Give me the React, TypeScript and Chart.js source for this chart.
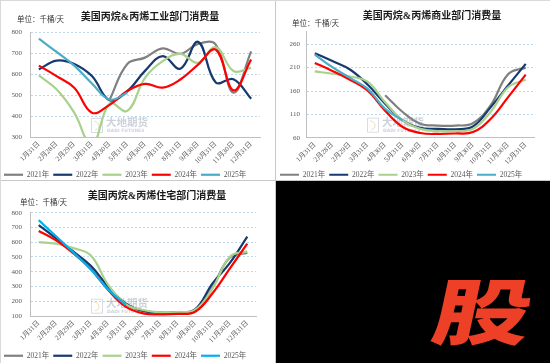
import React, { useEffect, useRef } from "react";
import { Chart, registerables } from "chart.js";

Chart.register(...registerables);

// ---------- DATA ----------
const categories = ["1月31日", "2月28日", "2月29日", "3月31日", "4月30日", "5月31日", "6月30日", "7月31日", "8月31日", "9月30日", "10月31日", "11月30日", "12月31日"];
const seriesNames = ["2021年", "2022年", "2023年", "2024年", "2025年"];

// 工业部门 (industrial)
const ind2021 = [null, null, null, null, 478, 648, 678, 722, 696, 743, 740, 511, 708];
const ind2022 = [622, 664, 648, 590, 475, 518, 615, 685, 625, 753, 560, 575, 482];
const ind2023 = [593, 527, 416, 260, 459, 424, 582, 661, 696, 653, 728, 614, 629];
const ind2024 = [640, 590, 535, 416, 453, 519, 553, 535, 574, 645, 716, 522, 669];
const ind2025 = [768, 705, 640, 555, 478, 510, null, null, null, null, null, null, null];

// 商业部门 (commercial)
const com2021 = [null, null, null, null, 151, 115, 90, 86, 86, 91, 129, 196, 210];
const com2022 = [241, 224, 206, 174, 133, 97, 81, 79, 78, 84, 125, 172, 218];
const com2023 = [202, 197, 191, 180, 136, 97, 79, 74, 74, 79, 115, 168, 184];
const com2024 = [220, 203, 184, 161, 118, 83, 70, 68, 69, 72, 100, 147, 195];
const com2025 = [238, 211, 188, 165, 122, 97, null, null, null, null, null, null, null];

// 住宅部门 (residential)
const res2021 = [null, null, null, null, 295, 182, 132, 122, 124, 140, 300, 497, 528];
const res2022 = [716, 626, 536, 440, 299, 186, 136, 123, 125, 145, 321, 460, 638];
const res2023 = [601, 590, 560, 510, 310, 181, 141, 125, 127, 141, 287, 502, 538];
const res2024 = [676, 612, 524, 418, 276, 163, 118, 111, 114, 129, 254, 423, 590];
const res2025 = [750, 640, 530, 415, 280, 175, null, null, null, null, null, null, null];

// tick labels
const indTickValues = [300, 400, 500, 600, 700, 800];
const comTickValues = [60, 110, 160, 210, 260];
const resTickValues = [100, 200, 300, 400, 500, 600, 700, 800];

// ---------- STYLE ----------
const FONT = "'Liberation Serif', 'Noto Sans CJK SC', serif";
const TITLE_FONT = "'Liberation Serif', 'Noto Sans CJK SC', serif";
const GRAY_TEXT = "#595959";

const decorPlugin = {
  id: "decor",
  beforeDatasetsDraw(chart: any) {
    const ctx = chart.ctx;
    const { left, top } = chart.chartArea;
    const x = left + 61;
    const y = top + 86;
    ctx.save();
    ctx.globalAlpha = 0.45;
    ctx.strokeStyle = "#a9b3c6";
    ctx.lineWidth = 1;
    ctx.beginPath();
    ctx.rect(x + 0.5, y + 0.5, 11, 14);
    ctx.stroke();
    ctx.strokeStyle = "#d8b868";
    ctx.beginPath();
    ctx.moveTo(x + 3, y + 3);
    ctx.bezierCurveTo(x + 9, y + 4, x + 10, y + 11, x + 4, y + 12);
    ctx.stroke();
    ctx.fillStyle = "#8e98ad";
    ctx.textBaseline = "top";
    ctx.textAlign = "left";
    ctx.font = "bold 10.5px 'Noto Sans CJK SC'";
    ctx.fillText("大地期货", x + 15, y - 1);
    ctx.font = "bold 4.5px 'DejaVu Sans'";
    ctx.fillText("DADI FUTURES", x + 16, y + 11);
    ctx.restore();
  },
  afterDraw(chart: any, _args: any, opts: any) {
    const ctx = chart.ctx;
    ctx.save();
    ctx.fillStyle = "#1a1a1a";
    ctx.textAlign = "center";
    ctx.textBaseline = "middle";
    ctx.font = `bold 10px ${TITLE_FONT}`;
    ctx.fillText(opts.title, opts.titleX, opts.titleY);
    ctx.fillStyle = "#333333";
    ctx.textAlign = "left";
    ctx.font = `7.5px ${FONT}`;
    ctx.fillText("单位：千桶/天", opts.unitX, opts.unitY);
    ctx.restore();
  },
};

type PanelCfg = {
  width: number;
  height: number;
  title: string;
  titleX: number;
  titleY: number;
  unitX: number;
  unitY: number;
  data: (number | null)[][];
  tickValues: number[];
  yMax: number;
  pad: { top: number; right: number; bottom: number; left: number };
  yWidth: number;
  yPad: number;
  xHeight: number;
  blue: string;
};

const baseColors = ["#808080", "#173a6e", "#a9d18e", "#ff0000"];

function buildConfig(p: PanelCfg): any {
  const colors = [...baseColors, p.blue];
  return {
    type: "line",
    data: {
      labels: categories,
      datasets: seriesNames.map((name, i) => ({
        label: name,
        data: p.data[i],
        borderColor: colors[i],
        backgroundColor: colors[i],
        borderWidth: 2.2,
        pointRadius: 0,
        tension: 0.4,
        fill: false,
        spanGaps: false,
        order: 5 - i,
      })),
    },
    options: {
      animation: false,
      responsive: false,
      maintainAspectRatio: false,
      layout: { padding: p.pad },
      plugins: {
        title: { display: false },
        tooltip: { enabled: false },
        legend: {
          display: true,
          position: "bottom",
          align: "start",
          maxHeight: 13,
          labels: {
            usePointStyle: true,
            pointStyle: "line",
            pointStyleWidth: 19,
            padding: 4,
            color: GRAY_TEXT,
            font: { size: 7.5, family: FONT },
            sort: (a: any, b: any) => a.datasetIndex - b.datasetIndex,
          },
        },
        decor: {
          title: p.title,
          titleX: p.titleX,
          titleY: p.titleY,
          unitX: p.unitX,
          unitY: p.unitY,
        },
      },
      scales: {
        x: {
          type: "category",
          offset: true,
          grid: { display: false, drawTicks: false },
          border: { display: true, color: "#bfbfbf", width: 1 },
          ticks: {
            autoSkip: false,
            minRotation: 45,
            maxRotation: 45,
            color: GRAY_TEXT,
            font: { size: 7, family: FONT },
            padding: 3,
          },
          afterFit: (s: any) => {
            s.height = p.xHeight;
          },
        },
        y: {
          type: "linear",
          min: p.tickValues[0],
          max: p.yMax,
          grid: { display: true, drawTicks: false, color: "#bdd7ee", lineWidth: 1 },
          border: { display: true, color: "#bfbfbf", width: 1, dash: [2, 2] },
          ticks: {
            color: GRAY_TEXT,
            font: { size: 7, family: FONT },
            padding: p.yPad,
          },
          afterBuildTicks: (s: any) => {
            s.ticks = p.tickValues.map((v) => ({ value: v }));
          },
          afterFit: (s: any) => {
            s.width = p.yWidth;
          },
        },
      },
    },
    plugins: [decorPlugin],
  };
}

function LineChart({ cfg, left, top }: { cfg: PanelCfg; left: number; top: number }) {
  const ref = useRef<HTMLCanvasElement>(null);
  useEffect(() => {
    const chart = new Chart(ref.current as HTMLCanvasElement, buildConfig(cfg));
    return () => chart.destroy();
  }, []);
  return (
    <canvas
      ref={ref}
      width={cfg.width}
      height={cfg.height}
      style={{ position: "absolute", left, top, width: cfg.width, height: cfg.height, display: "block" }}
    />
  );
}

const industrial: PanelCfg = {
  width: 275,
  height: 180,
  title: "美国丙烷&丙烯工业部门消费量",
  titleX: 150,
  titleY: 17,
  unitX: 17,
  unitY: 20,
  data: [ind2021, ind2022, ind2023, ind2024, ind2025],
  tickValues: indTickValues,
  yMax: 800,
  pad: { top: 32, right: 15, bottom: 0, left: 0 },
  yWidth: 30,
  yPad: 8,
  xHeight: 30,
  blue: "#4aacc6",
};

const commercial: PanelCfg = {
  width: 274,
  height: 180,
  title: "美国丙烷&丙烯商业部门消费量",
  titleX: 156,
  titleY: 16,
  unitX: 16,
  unitY: 24,
  data: [com2021, com2022, com2023, com2024, com2025],
  tickValues: comTickValues,
  yMax: 287,
  pad: { top: 31.7, right: 15.5, bottom: 0, left: 0 },
  yWidth: 30,
  yPad: 6,
  xHeight: 29.3,
  blue: "#4aacc6",
};

const residential: PanelCfg = {
  width: 275,
  height: 182,
  title: "美国丙烷&丙烯住宅部门消费量",
  titleX: 157,
  titleY: 15.7,
  unitX: 20,
  unitY: 21.7,
  data: [res2021, res2022, res2023, res2024, res2025],
  tickValues: resTickValues,
  yMax: 800,
  pad: { top: 31.7, right: 19, bottom: 2, left: 0 },
  yWidth: 30,
  yPad: 8,
  xHeight: 32,
  blue: "#00b0f0",
};

export default function App() {
  return (
    <div
      style={{
        position: "fixed",
        left: 0,
        top: 0,
        width: 550,
        height: 363,
        background: "#ffffff",
        overflow: "hidden",
      }}
    >
      <LineChart cfg={industrial} left={0} top={0} />
      <LineChart cfg={commercial} left={276} top={0} />
      <LineChart cfg={residential} left={0} top={181} />
      <div
        style={{
          position: "absolute",
          left: 276,
          top: 181,
          width: 274,
          height: 182,
          background: "#000000",
          overflow: "hidden",
        }}
      >
        <span
          style={{
            position: "absolute",
            left: 172,
            top: 91,
            fontFamily: "'Noto Sans CJK SC', sans-serif",
            fontWeight: 900,
            fontSize: 72,
            lineHeight: "72px",
            color: "#ee4027",
            transform: "scaleX(1.35) skewX(-9deg)",
            transformOrigin: "center",
            whiteSpace: "nowrap",
          }}
        >
          股
        </span>
      </div>
      <div style={{ position: "absolute", left: 275, top: 0, width: 1, height: 363, background: "#c8c8c8" }} />
      <div style={{ position: "absolute", left: 0, top: 180, width: 550, height: 1, background: "#c8c8c8" }} />
      <div style={{ position: "absolute", left: 0, top: 0, width: 1, height: 363, background: "#d9d9d9" }} />
      <div style={{ position: "absolute", left: 0, top: 0, width: 550, height: 1, background: "#d9d9d9" }} />
    </div>
  );
}
